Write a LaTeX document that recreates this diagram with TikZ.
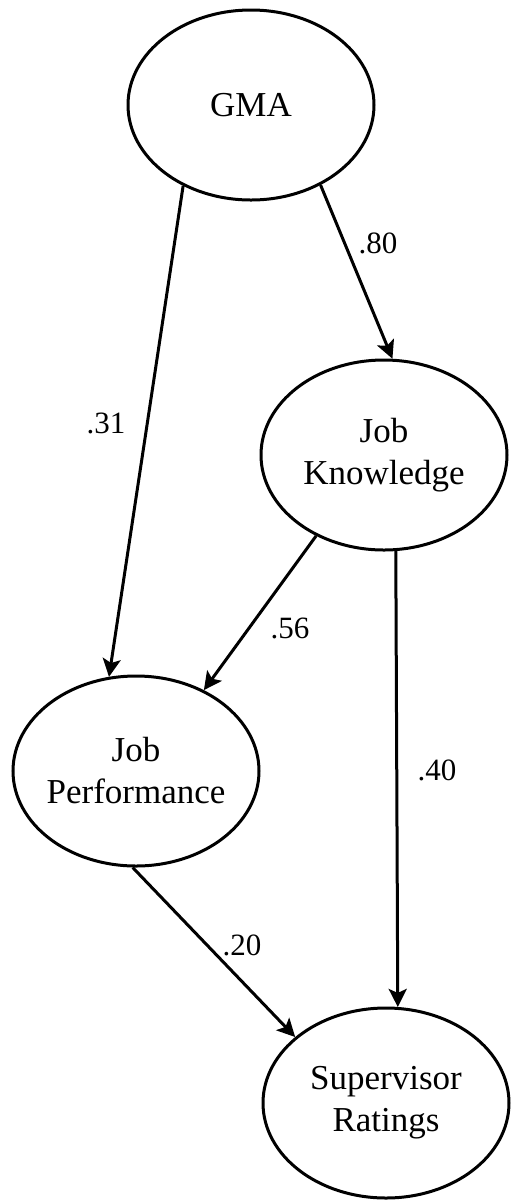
\documentclass[tikz,border=0pt]{standalone}
\usepackage{fontspec}
\setmainfont{Liberation Serif}
\usetikzlibrary{shapes.geometric,arrows.meta}

\begin{document}
\begin{tikzpicture}[x=0.5pt,y=-0.5pt]
      \useasboundingbox(0,0) rectangle (511,1201);
      \tikzset{V/.style = {shape=ellipse, draw, line width=1.5pt, minimum width=123pt, minimum height=95pt, inner sep=0pt, inner xsep=-10pt, align=center, font=\fontsize{17.5}{21}\selectfont}}
      \tikzset{E/.style = {draw, line width=1.5pt, -{Stealth[length=9pt,width=9pt,inset=2pt]}}}
      \tikzset{W/.style = {font=\fontsize{15.5}{18}\selectfont}}
      \node[V](gma) at (251,105) {GMA};
      \node[V](jk) at (384,455) {Job\\Knowledge};
      \node[V](jp) at (136,771) {Job\\Performance};
      \node[V](sr) at (386,1103) {Supervisor\\Ratings};
      \node[W](w80) at (378,243) {.80};
      \node[W](w31) at (106,423) {.31};
      \node[W](w56) at (290,628) {.56};
      \node[W](w40) at (437,770) {.40};
      \node[W](w20) at (242,945) {.20};
      \draw[E](gma.-49) to (jk.85);
      \draw[E](gma.-130) to (jp.106);
      \draw[E](jk.-130) to (jp.50);
      \draw[E](jk.-83) to (sr.83);
      \draw[E](jp.-92) to (sr.144);
\end{tikzpicture}
\end{document}
